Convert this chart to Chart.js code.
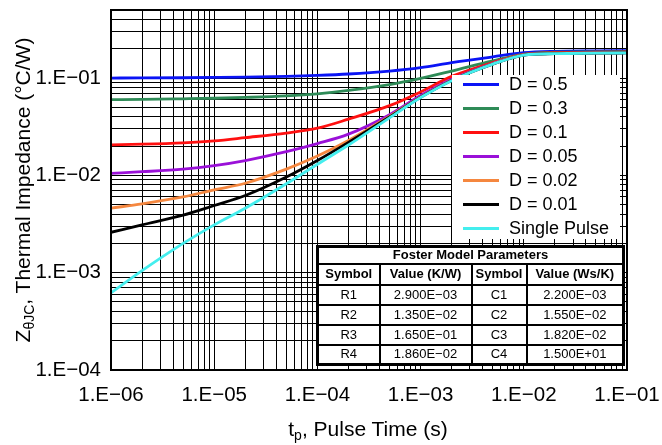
<!DOCTYPE html>
<html><head><meta charset="utf-8">
<script src="https://cdn.jsdelivr.net/npm/chart.js@4/dist/chart.umd.min.js"></script>
<style>
html,body{margin:0;padding:0;background:#fff;}
#wrap{position:relative;width:662px;height:445px;overflow:hidden;font-family:"Liberation Sans",Arial,Helvetica,sans-serif;color:#000;}
#c{position:absolute;left:0;top:0;}
.ttl{position:absolute;font-size:21px;line-height:30px;height:30px;text-align:center;white-space:nowrap;}
.ttl sub{font-size:14px;vertical-align:-4px;line-height:0;}
#xt{left:168px;top:414px;width:400px;}
#yt{left:-177px;top:175px;width:400px;transform:rotate(-90deg);}
#legend{position:absolute;left:452px;top:75px;width:168px;height:164px;background:#fff;}
.li{position:absolute;left:0;height:24px;width:168px;}
.li .sw{position:absolute;left:11px;top:10.5px;width:36px;height:3px;}
.li .lt{position:absolute;left:57px;top:0;line-height:24px;font-size:18px;white-space:nowrap;}
#foster{position:absolute;left:316px;top:245px;width:306px;height:118px;border-collapse:collapse;table-layout:fixed;background:#fff;font-size:13px;border:3px solid #000;}
#foster td,#foster th{border:2px solid #000;text-align:center;padding:0;line-height:14px;}
#foster th{font-weight:bold;}
</style>
</head><body>
<div id="wrap">
<canvas id="c" width="662" height="445"></canvas>
<div id="legend"></div>
<table id="foster">
<colgroup><col style="width:62px"><col style="width:92px"><col style="width:55px"><col style="width:97px"></colgroup>
<tbody id="ftbody"></tbody>
</table>
<div class="ttl" id="xt">t<sub>p</sub>, Pulse Time (s)</div>
<div class="ttl" id="yt">Z<sub>θJC</sub>, Thermal Impedance (°C/W)</div>
</div>
<script>
// ---- data ----
const pulseTimes = [1e-6, 2e-6, 5e-6, 1e-5, 2e-5, 5e-5, 1e-4, 2e-4, 5e-4, 1e-3, 2e-3, 5e-3, 1e-2, 2e-2, 5e-2, 1e-1];
const zD050 = [0.1000, 0.1002, 0.1007, 0.1014, 0.1023, 0.1042, 0.1065, 0.110, 0.118, 0.128, 0.144, 0.165, 0.182, 0.188, 0.190, 0.191];
const zD030 = [0.0600, 0.0603, 0.0612, 0.0620, 0.0632, 0.0655, 0.0688, 0.0745, 0.0855, 0.099, 0.118, 0.150, 0.176, 0.184, 0.186, 0.187];
const zD010 = [0.0206, 0.0209, 0.0216, 0.0226, 0.0244, 0.0272, 0.0305, 0.0378, 0.052, 0.072, 0.104, 0.144, 0.175, 0.182, 0.184, 0.185];
const zD005 = [0.0105, 0.0109, 0.0116, 0.0126, 0.0142, 0.0175, 0.0212, 0.0265, 0.042, 0.066, 0.097, 0.141, 0.173, 0.179, 0.181, 0.182];
const zD002 = [0.0046, 0.0051, 0.0060, 0.0071, 0.0083, 0.0116, 0.0158, 0.0228, 0.0405, 0.064, 0.095, 0.140, 0.173, 0.179, 0.181, 0.182];
const zD001 = [0.0026, 0.0031, 0.0039, 0.0049, 0.0062, 0.0096, 0.0142, 0.0218, 0.0398, 0.0635, 0.0945, 0.139, 0.172, 0.178, 0.180, 0.181];
const zSingle = [0.00062, 0.00105, 0.0020, 0.0031, 0.0046, 0.0082, 0.0130, 0.0205, 0.0390, 0.063, 0.094, 0.139, 0.172, 0.178, 0.180, 0.181];
const seriesLabels = ['D = 0.5', 'D = 0.3', 'D = 0.1', 'D = 0.05', 'D = 0.02', 'D = 0.01', 'Single Pulse'];

const xTickValues = [1e-6, 1e-5, 1e-4, 1e-3, 1e-2, 1e-1];
const xTickLabels = ['1.E\u221206', '1.E\u221205', '1.E\u221204', '1.E\u221203', '1.E\u221202', '1.E\u221201'];
const yTickValues = [1e-4, 1e-3, 1e-2, 1e-1];
const yTickLabels = ['1.E\u221204', '1.E\u221203', '1.E\u221202', '1.E\u221201'];
const gridMultipliers = [1, 2, 3, 4, 5, 6, 7, 8, 9];

const rSymbols = ['R1', 'R2', 'R3', 'R4'];
const rValues = ['2.900E\u221203', '1.350E\u221202', '1.650E\u221201', '1.860E\u221202'];
const cSymbols = ['C1', 'C2', 'C3', 'C4'];
const cValues = ['2.200E\u221203', '1.550E\u221202', '1.820E\u221202', '1.500E+01'];

// ---- styles ----
const seriesColors = ['#0a14f5', '#2e8b57', '#ff1010', '#9a10d8', '#f5873f', '#000000', '#44eeee'];
const seriesOrder = [6, 5, 4, 3, 2, 1, 0];
const FONT = '"Liberation Sans", Arial, Helvetica, sans-serif';

const allSeries = [zD050, zD030, zD010, zD005, zD002, zD001, zSingle];

function buildGrid(decades, maxVal) {
  const out = [];
  decades.forEach(d => gridMultipliers.forEach(m => {
    const v = +(m * d).toPrecision(6);
    if (v <= maxVal * 1.0000001) out.push(v);
  }));
  return out;
}
const xGrid = buildGrid([1e-6, 1e-5, 1e-4, 1e-3, 1e-2], 1e-1).concat([1e-1]);
const yGrid = buildGrid([1e-4, 1e-3, 1e-2, 1e-1], 0.5);

function labelFor(v, vals, labels) {
  for (let i = 0; i < vals.length; i++) {
    if (Math.abs(v - vals[i]) / vals[i] < 1e-6) return labels[i];
  }
  return '';
}

const framePlugin = {
  id: 'frame',
  afterDatasetsDraw(chart) {
    const a = chart.chartArea, c = chart.ctx;
    c.save();
    c.strokeStyle = '#000';
    c.lineWidth = 2;
    c.strokeRect(a.left, a.top, a.right - a.left, a.bottom - a.top);
    c.restore();
  }
};

function zeroPad(s) { s.paddingTop = 0; s.paddingBottom = 0; s.paddingLeft = 0; s.paddingRight = 0; }

const chart = new Chart(document.getElementById('c').getContext('2d'), {
  type: 'line',
  data: {
    datasets: allSeries.map((s, k) => ({
      label: seriesLabels[k],
      data: pulseTimes.map((t, i) => ({x: t, y: s[i]})),
      borderColor: seriesColors[k],
      backgroundColor: seriesColors[k],
      borderWidth: 2.8,
      pointRadius: 0,
      fill: false,
      cubicInterpolationMode: 'monotone',
      order: seriesOrder[k]
    }))
  },
  options: {
    responsive: false,
    animation: false,
    devicePixelRatio: 1,
    layout: {padding: {top: 10, right: 35, left: 0, bottom: 0}},
    plugins: {legend: {display: false}, tooltip: {enabled: false}},
    scales: {
      x: {
        type: 'logarithmic', min: 1e-6, max: 1e-1, position: 'bottom',
        afterBuildTicks: s => { s.ticks = xGrid.map(v => ({value: v})); },
        afterFit: s => { s.height = 75; zeroPad(s); },
        grid: {color: '#000', lineWidth: 1, drawTicks: false},
        border: {display: true, color: '#000', width: 2},
        ticks: {autoSkip: false, maxRotation: 0, minRotation: 0, padding: 13, color: '#000',
          font: {family: FONT, size: 20.5},
          callback: v => labelFor(v, xTickValues, xTickLabels)}
      },
      y: {
        type: 'logarithmic', min: 1e-4, max: 0.5, position: 'left',
        afterBuildTicks: s => { s.ticks = yGrid.map(v => ({value: v})); },
        afterFit: s => { s.width = 111; zeroPad(s); },
        grid: {color: '#000', lineWidth: 1, drawTicks: false},
        border: {display: true, color: '#000', width: 2},
        ticks: {autoSkip: false, padding: 10, color: '#000',
          font: {family: FONT, size: 20.5},
          callback: v => labelFor(v, yTickValues, yTickLabels)}
      }
    }
  },
  plugins: [framePlugin]
});

// ---- legend (HTML) ----
const legend = document.getElementById('legend');
chart.data.datasets.forEach((ds, i) => {
  const row = document.createElement('div');
  row.className = 'li';
  row.style.top = (-2.7 + 23.95 * i) + 'px';
  const sw = document.createElement('div');
  sw.className = 'sw';
  sw.style.background = ds.borderColor;
  const lt = document.createElement('div');
  lt.className = 'lt';
  lt.textContent = ds.label;
  row.appendChild(sw); row.appendChild(lt);
  legend.appendChild(row);
});

// ---- Foster table ----
const tb = document.getElementById('ftbody');
const rowHeights = [17, 21, 20, 20, 20, 20];
let html = '<tr style="height:' + rowHeights[0] + 'px"><th colspan="4">Foster Model Parameters</th></tr>';
html += '<tr style="height:' + rowHeights[1] + 'px"><th>Symbol</th><th>Value (K/W)</th><th>Symbol</th><th>Value (Ws/K)</th></tr>';
rSymbols.forEach((s, i) => {
  html += '<tr style="height:' + rowHeights[i + 2] + 'px"><td>' + s + '</td><td>' + rValues[i] + '</td><td>' + cSymbols[i] + '</td><td>' + cValues[i] + '</td></tr>';
});
tb.innerHTML = html;
</script>
</body></html>
